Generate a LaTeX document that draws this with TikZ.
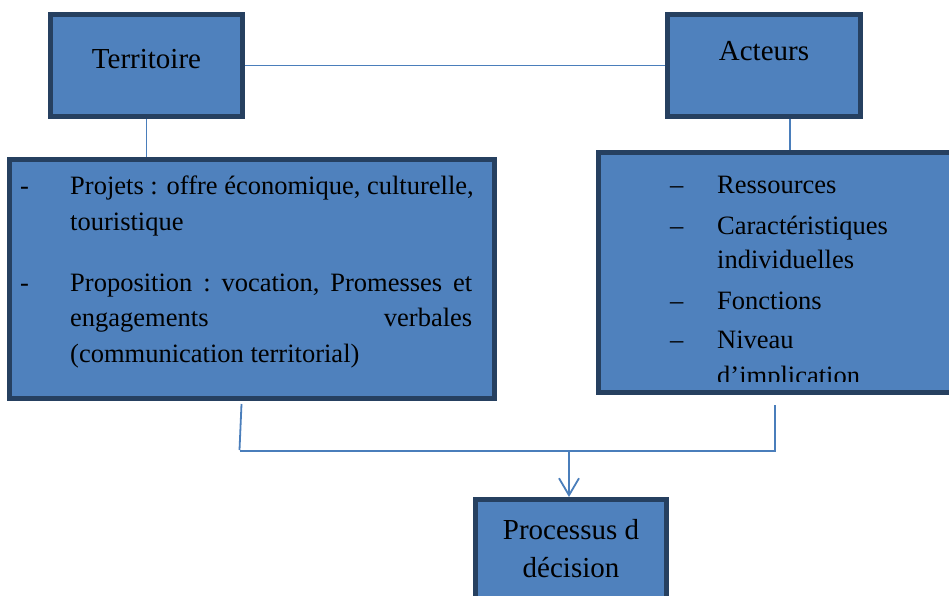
\documentclass[tikz,border=0pt]{standalone}
\usepackage{fontspec}
\setmainfont{Liberation Serif}
\usetikzlibrary{arrows.meta,calc}
\definecolor{boxfill}{RGB}{79,129,189}
\definecolor{boxedge}{RGB}{38,64,96}
\definecolor{conn}{RGB}{74,126,187}
\begin{document}
\begin{tikzpicture}[x=1pt,y=-1pt,
  bx/.style={draw=boxedge, fill=boxfill, line width=5pt, inner sep=0pt, outer sep=2.5pt, rectangle},
  cn/.style={draw=conn, line width=1.8pt},
  tt/.style={font=\fontsize{29}{34}\selectfont, inner sep=0pt, anchor=base},
  bt/.style={font=\fontsize{26.5}{36}\selectfont, inner sep=0pt, anchor=base west},
]
\clip (0,0) rectangle (949,596);
\fill[white] (0,0) rectangle (949,596);
% boxes
\node[bx, minimum width=192pt, minimum height=102pt] (terr) at (146.5,65.5) {};
\node[bx, minimum width=192.7pt, minimum height=102pt] (act) at (763.9,65.5) {};
\node[bx, minimum width=485pt, minimum height=238.7pt] (left) at (252,278.9) {};
\node[bx, minimum width=401.5pt, minimum height=240pt] (right) at (799.25,272.5) {};
\node[bx, minimum width=191pt, minimum height=102pt] (proc) at (571,550.5) {};
% titles
\node[tt] (tterr) at (146.5,68.3) {Territoire};
\node[tt] (tact) at (764,61) {Acteurs};
\node[tt] (tproc1) at (571,539) {Processus d};
\node[tt] (tproc2) at (571,577.7) {décision};
% left text
\node[bt] (ld1) at (20,194) {-};
\node[bt] (l1) at (70,194) {Projets : offre économique, culturelle,};
\node[bt] (l2) at (70,230) {touristique};
\node[bt] (ld2) at (20,291.7) {-};
\node[bt] (l3) at (70,291.7) {\hbox to 402pt{Proposition\hfill:\hfill vocation,\hfill Promesses\hfill et}};
\node[bt] (l4) at (70,326.7) {\hbox to 402pt{engagements\hfill verbales}};
\node[bt] (l5) at (70,362.7) {(communication territorial)};
% right text
\node[bt] (rd1) at (670,193.3) {–};
\node[bt] (r1) at (717,193.3) {Ressources};
\node[bt] (rd2) at (670,234) {–};
\node[bt] (r2) at (717,234) {Caractéristiques};
\node[bt] (r3) at (717,268.3) {individuelles};
\node[bt] (rd3) at (670,309.3) {–};
\node[bt] (r4) at (717,309.3) {Fonctions};
\node[bt] (rd4) at (670,348.3) {–};
\node[bt] (r5) at (717,348.3) {Niveau};
\begin{scope}
\clip (600,355) rectangle (949,381);
\node[bt] (r6) at (717,384) {d’implication};
\end{scope}
% connectors
\draw[cn] (terr.east) -- (act.west);
\draw[cn] (terr.south) -- (terr.south |- left.north);
\coordinate (ac) at ($(act.south)+(26,0)$);
\draw[cn] (ac) -- (ac |- right.north);
\coordinate (la) at (241.5,404);
\coordinate (lb) at (239.5,450);
\coordinate (ra) at (775,405);
\coordinate (rb) at (775,451);
\coordinate (mid) at (569,451);
\draw[cn] (la) -- (lb);
\draw[cn] (lb |- rb) -- (rb) -- (ra);
\draw[cn, -{Straight Barb[length=17pt,width=20pt,line width=1.8pt]}] (mid) -- (mid |- proc.north);
\end{tikzpicture}
\end{document}
